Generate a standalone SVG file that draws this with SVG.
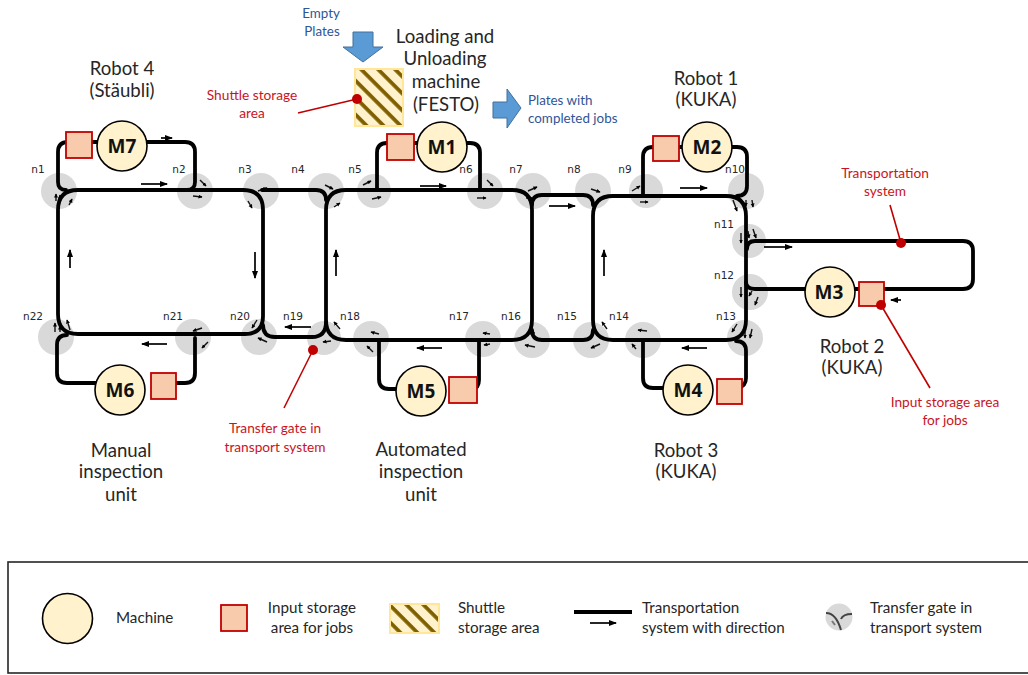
<svg xmlns="http://www.w3.org/2000/svg" width="1028" height="675" viewBox="0 0 1028 675">
<style>
text{font-family:Lato,"Open Sans","Liberation Sans",sans-serif;fill:#262626}
.c{text-anchor:middle}
.big{font-size:18.6px}
.n{font-family:"DejaVu Sans",sans-serif;font-size:10.5px;text-anchor:middle}
.red{font-size:13.7px;fill:#c9141e;text-anchor:middle}
.blue{font-size:13.400px;fill:#2f5597}
.leg{font-size:15.200px}
.mt{font-size:19px;font-weight:700;text-anchor:middle;fill:#111;font-family:"Open Sans",sans-serif}
.g{fill:#d9d9d9}
.t{fill:none;stroke:#000;stroke-width:3.8;stroke-linecap:round;stroke-linejoin:round}
.d{fill:none;stroke:#000;stroke-width:1.7;marker-end:url(#a)}
.s{fill:none;stroke:#111;stroke-width:1.4;marker-end:url(#b)}
.m{fill:#fff2cc;stroke:#000;stroke-width:1.6}
.q{fill:#f8cbad;stroke:#c00000;stroke-width:1.8}
.l{fill:none;stroke:#c00000;stroke-width:1.6}
.dot{fill:#c00000}
.ar{fill:#5b9bd5;stroke:#41719c;stroke-width:1}
.h{stroke:#ffe699;stroke-width:2}
</style>
<defs>
<marker id="a" markerWidth="9" markerHeight="8" refX="7" refY="3" orient="auto" markerUnits="userSpaceOnUse"><path d="M0 0L8 3L0 6z" fill="#000"/></marker>
<marker id="b" markerWidth="5" markerHeight="5" refX="3.500" refY="2" orient="auto" markerUnits="userSpaceOnUse"><path d="M0 0L4 2L0 4z" fill="#000"/></marker>
<pattern id="hatch" width="12" height="12" patternUnits="userSpaceOnUse" patternTransform="rotate(45 355 69)"><rect width="12" height="12" fill="#fff2cc"/><rect y="3" width="12" height="3.800" fill="#7f6000"/></pattern>
<pattern id="hatch2" width="12" height="12" patternUnits="userSpaceOnUse" patternTransform="rotate(45 390 604)"><rect width="12" height="12" fill="#fff2cc"/><rect y="3" width="12" height="3.800" fill="#7f6000"/></pattern>
</defs>

<g id="gates">
<g id="n1"><circle class="g" cx="59" cy="191" r="18"/><path class="s" d="M56 201V194"/><path class="s" d="M60 200V195"/><path class="s" d="M69 205L72 199"/><text class="n" x="38" y="173">n1</text></g>
<g id="n2"><circle class="g" cx="195" cy="191" r="18"/><path class="s" d="M200 180L206 186"/><path class="s" d="M193 196L202 197"/><text class="n" x="179" y="173">n2</text></g>
<g id="n3"><circle class="g" cx="261" cy="191" r="18"/><path class="s" d="M258 191L267 188"/><path class="s" d="M248 201L252 208"/><text class="n" x="245" y="173">n3</text></g>
<g id="n4"><circle class="g" cx="326" cy="191" r="18"/><path class="s" d="M325 185L333 189"/><path class="s" d="M334 207L340 203"/><text class="n" x="298" y="173">n4</text></g>
<g id="n5"><circle class="g" cx="374" cy="191" r="17"/><path class="s" d="M363 185L371 181"/><path class="s" d="M372 199L381 197"/><text class="n" x="355" y="173">n5</text></g>
<g id="n6"><circle class="g" cx="485" cy="191" r="18"/><path class="s" d="M487 180L493 186"/><path class="s" d="M477 198H486"/><text class="n" x="466" y="173">n6</text></g>
<g id="n7"><circle class="g" cx="533" cy="191" r="18"/><path class="s" d="M528 191L537 187"/><path class="s" d="M526 198H532"/><text class="n" x="516" y="173">n7</text></g>
<g id="n8"><circle class="g" cx="593" cy="191" r="18"/><path class="s" d="M591 189L600 192"/><path class="s" d="M598 199L604 198"/><text class="n" x="574" y="173">n8</text></g>
<g id="n9"><circle class="g" cx="646" cy="191" r="17"/><path class="s" d="M632 191L640 186"/><path class="s" d="M640 202H648"/><text class="n" x="625" y="173">n9</text></g>
<g id="n10"><circle class="g" cx="746" cy="191" r="18"/><path class="s" d="M733 200L737 211"/><path class="s" d="M752 200L753 207"/><path class="s" d="M746 200V206"/><text class="n" x="735" y="173">n10</text></g>
<g id="n11"><circle class="g" cx="749" cy="241" r="17"/><path class="s" d="M741 233V243"/><path class="s" d="M753 229L756 238"/><path class="s" d="M748 231L749 238"/><text class="n" x="724" y="228">n11</text></g>
<g id="n12"><circle class="g" cx="750" cy="292" r="18"/><path class="s" d="M741 287V297"/><path class="s" d="M758 297L755 305"/><path class="s" d="M752 291L749 296"/><text class="n" x="724" y="279">n12</text></g>
<g id="n13"><circle class="g" cx="745" cy="338" r="18"/><path class="s" d="M737 324L732 332"/><path class="s" d="M752 329L750 338"/><path class="s" d="M745 331V338"/><text class="n" x="726" y="320">n13</text></g>
<g id="n14"><circle class="g" cx="643" cy="340" r="18"/><path class="s" d="M647 331L638 330"/><path class="s" d="M636 349L632 344"/><text class="n" x="619" y="320">n14</text></g>
<g id="n15"><circle class="g" cx="591" cy="340" r="18"/><path class="s" d="M607 329L602 322"/><path class="s" d="M600 344L591 348"/><text class="n" x="567" y="320">n15</text></g>
<g id="n16"><circle class="g" cx="532" cy="340" r="18"/><path class="s" d="M535 347L525 345"/><path class="s" d="M535 333H528"/><text class="n" x="511" y="320">n16</text></g>
<g id="n17"><circle class="g" cx="483" cy="339" r="18"/><path class="s" d="M490 334L483 333"/><path class="s" d="M490 344L484 345"/><text class="n" x="459" y="320">n17</text></g>
<g id="n18"><circle class="g" cx="371" cy="339" r="18"/><path class="s" d="M379 334L371 332"/><path class="s" d="M373 352L367 346"/><text class="n" x="350" y="320">n18</text></g>
<g id="n19"><circle class="g" cx="324" cy="338" r="17"/><path class="s" d="M340 329L334 322"/><path class="s" d="M331 341L323 342"/><text class="n" x="293" y="320">n19</text></g>
<g id="n20"><circle class="g" cx="259" cy="337" r="18"/><path class="s" d="M257 320L252 328"/><path class="s" d="M267 342L258 338"/><text class="n" x="240" y="320">n20</text></g>
<g id="n21"><circle class="g" cx="193" cy="337" r="18"/><path class="s" d="M202 328L193 331"/><path class="s" d="M208 342L202 348"/><text class="n" x="173" y="320">n21</text></g>
<g id="n22"><circle class="g" cx="56" cy="337" r="18"/><path class="s" d="M55 332V323"/><path class="s" d="M60 332V326"/><path class="s" d="M70 330L67 320"/><text class="n" x="33" y="320">n22</text></g>
</g>

<g id="connectors">
<path class="t" d="M58 210Q58 190 78 190H243Q263 190 263 210V316Q263 334 245 334H78Q58 334 58 314Z"/>
<path class="t" d="M326 210Q326 190 346 190H512Q532 190 532 210V320Q532 340 512 340H346Q326 340 326 320Z"/>
<path class="t" d="M593 216Q593 196 613 196H726Q746 196 746 216V320Q746 340 726 340H613Q593 340 593 320Z"/>
<path class="t" d="M262 190H316Q326 190 326 200M263 325Q263 337 275 337H312Q326 337 326 322"/>
<path class="t" d="M532 205Q532 195 542 195H583Q593 195 593 205M532 330Q532 340 542 340H583Q593 340 593 330"/>
<path class="t" d="M58 182V152Q58 142 68 142H185Q195 142 195 152V182Q195 190 187 190M58 182Q58 190 66 190"/>
<path class="t" d="M377 188V153Q377 143 387 143H470Q480 143 480 153V188"/>
<path class="t" d="M643 194V157Q643 147 653 147H737Q747 147 747 157V186Q747 196 737 196"/>
<path class="t" d="M747 249Q747 241 755 241H963Q973 241 973 251V279Q973 289 963 289H755Q746 289 746 282"/>
<path class="t" d="M643 342V378Q643 388 653 388H670M736 341Q746 341 746 351V378Q746 386 738 388"/>
<path class="t" d="M379 342V379Q379 389 389 389H405M479 342V380Q479 388 472 390"/>
<path class="t" d="M67 335Q57 335 57 345V373Q57 383 67 383H105M165 383H185Q195 383 195 373V338"/>
<path class="d" d="M141 184H167"/><path class="d" d="M420 186H446"/><path class="d" d="M680 188H707"/><path class="d" d="M549 206H575"/><path class="d" d="M764 247H792"/><path class="d" d="M901 300H891"/><path class="d" d="M311 327H285"/><path class="d" d="M442 348H417"/><path class="d" d="M167 344H142"/><path class="d" d="M707 348H682"/><path class="d" d="M70 268V250"/><path class="d" d="M255 252V278"/><path class="d" d="M336 276V250"/><path class="d" d="M604 276V250"/><path class="d" d="M161 138H172"/>
</g>

<g id="M7"><rect class="q" x="66" y="132" width="26" height="26"/><circle class="m" cx="122" cy="146" r="25"/><text class="mt" x="122" y="153">M7</text></g>
<g id="M1"><rect class="q" x="387" y="134" width="27" height="26"/><circle class="m" cx="442" cy="147" r="25"/><text class="mt" x="442" y="154">M1</text></g>
<g id="M2"><rect class="q" x="653" y="136" width="26" height="25"/><circle class="m" cx="707" cy="147" r="25"/><text class="mt" x="707" y="154">M2</text></g>
<g id="M3"><circle class="m" cx="830" cy="292" r="25"/><rect class="q" x="859" y="282" width="25" height="24"/><text class="mt" x="829" y="299">M3</text></g>
<g id="M4"><circle class="m" cx="688" cy="390" r="25"/><rect class="q" x="717" y="379" width="25" height="25"/><text class="mt" x="688" y="397">M4</text></g>
<g id="M5"><circle class="m" cx="421" cy="391" r="25"/><rect class="q" x="449" y="377" width="28" height="26"/><text class="mt" x="421" y="398">M5</text></g>
<g id="M6"><circle class="m" cx="120" cy="390" r="25"/><rect class="q" x="151" y="373" width="25" height="26"/><text class="mt" x="120" y="397">M6</text></g>

<g id="loader">
<rect class="h" fill="url(#hatch)" x="355" y="69" width="48" height="57"/>
<path class="ar" d="M353 32H373V47H383L363 62L343 47H353z"/>
<path class="ar" d="M493 102H507V89L521 108L507 128V118H493z"/>
<text class="blue c" x="321" y="18">Empty</text><text class="blue c" x="322" y="36">Plates</text>
<text class="big c" x="445" y="43">Loading and</text><text class="big c" x="445" y="65">Unloading</text><text class="big c" x="446" y="88">machine</text><text class="big c" x="446" y="111">(FESTO)</text>
<text class="blue" x="528" y="105">Plates with</text><text class="blue" x="528" y="123">completed jobs</text>
</g>

<g id="labels">
<text class="big c" x="122" y="75">Robot 4</text><text class="big c" x="122" y="97">(Stäubli)</text>
<text class="big c" x="706" y="85">Robot 1</text><text class="big c" x="706" y="106">(KUKA)</text>
<text class="big c" x="852" y="353">Robot 2</text><text class="big c" x="852" y="374">(KUKA)</text>
<text class="big c" x="686" y="457">Robot 3</text><text class="big c" x="686" y="478">(KUKA)</text>
<text class="big c" x="121" y="457">Manual</text><text class="big c" x="121" y="478">inspection</text><text class="big c" x="121" y="501">unit</text>
<text class="big c" x="421" y="456">Automated</text><text class="big c" x="421" y="478">inspection</text><text class="big c" x="421" y="501">unit</text>
<text class="red" x="252" y="100">Shuttle storage</text><text class="red" x="252" y="118">area</text>
<text class="red" x="885" y="178">Transportation</text><text class="red" x="885" y="196">system</text>
<text class="red" x="945" y="407">Input storage area</text><text class="red" x="945" y="425">for jobs</text>
<text class="red" x="275" y="433">Transfer gate in</text><text class="red" x="275" y="452">transport system</text>
<path class="l" d="M357 99L298 113"/><circle class="dot" cx="357" cy="99" r="5"/>
<path class="l" d="M901 243L890 205"/><circle class="dot" cx="901" cy="243" r="5"/>
<path class="l" d="M881 305L930 388"/><circle class="dot" cx="881" cy="305" r="5"/>
<path class="l" d="M313 350L284 408"/><circle class="dot" cx="313" cy="350" r="5"/>
</g>

<g id="legend">
<rect x="8" y="562" width="1030" height="111" fill="#fff" stroke="#262626" stroke-width="1.6"/>
<circle class="m" cx="67.500" cy="618.500" r="25"/><text class="leg" x="116" y="623">Machine</text>
<rect class="q" x="221" y="605" width="26" height="26"/><text class="leg c" x="312" y="613">Input storage</text><text class="leg c" x="312" y="633">area for jobs</text>
<rect class="h" fill="url(#hatch2)" x="390" y="604" width="49" height="29"/><text class="leg" x="458" y="613">Shuttle</text><text class="leg" x="458" y="633">storage area</text>
<path d="M574 612H632" stroke="#000" stroke-width="3.800"/><path class="d" d="M590 623H616"/><text class="leg" x="642" y="613">Transportation</text><text class="leg" x="642" y="633">system with direction</text>
<g id="legend-gate"><circle class="g" cx="839" cy="617" r="13.500"/><path d="M826 613Q836 613 841 630" fill="none" stroke="#444" stroke-width="2"/><path d="M841 619Q843 614 852 614" fill="none" stroke="#444" stroke-width="2"/><path d="M832 621L835 625" stroke="#777" stroke-width="2"/></g>
<text class="leg" x="870" y="613">Transfer gate in</text><text class="leg" x="870" y="633">transport system</text>
</g>
</svg>
